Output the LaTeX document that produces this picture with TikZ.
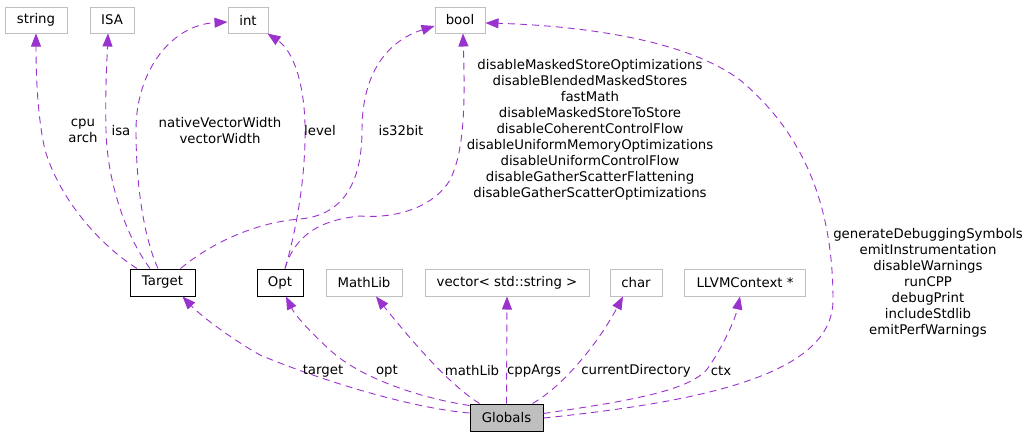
\documentclass[tikz,border=0pt]{standalone}
\usepackage{fontspec}
\setmainfont{DejaVu Sans}
\usepackage{tikz}
\usetikzlibrary{arrows.meta}

\definecolor{edgecol}{HTML}{9A32CD}
\definecolor{extgray}{HTML}{BFBFBF}

\begin{document}
\begin{tikzpicture}[
  x=1pt, y=-1pt,
  >={Triangle[length=13pt,width=10pt]},
  box/.style={draw, line width=1pt, minimum height=26pt, inner sep=0pt, font=\fontsize{13.3}{16}\selectfont},
  ext/.style={box, draw=extgray},
  cls/.style={box, draw=black, minimum height=27pt},
  lbl/.style={align=center, inner sep=0pt, font=\fontsize{13.3}{16}\selectfont},
  dep/.style={->, edgecol, line width=0.9pt, dash pattern=on 7pt off 5pt},
]
\useasboundingbox (0,0) rectangle (1032,437);

% Member types
\node[ext, minimum width=62pt] (string) at (36,20) {string};
\node[ext, minimum width=44pt] (isa)    at (112,20) {ISA};
\node[ext, minimum width=40pt] (int)    at (248,20) {int};
\node[ext, minimum width=50pt] (bool)   at (460,20) {bool};

\node[cls, minimum width=65pt]  (target)  at (162.5,282.5) {Target};
\node[cls, minimum width=46pt]  (opt)     at (280,282.5) {Opt};
\node[ext, minimum width=76pt, minimum height=27pt]  (mathlib) at (364,282.5) {MathLib};
\node[ext, minimum width=164pt, minimum height=27pt] (vecstr)  at (507,282.5) {vector< std::string >};
\node[ext, minimum width=52pt, minimum height=27pt]  (chr)     at (636,282.5) {char};
\node[ext, minimum width=121pt, minimum height=27pt] (llvmctx) at (745,282.5) {LLVMContext *};

\node[cls, fill=extgray, minimum width=73pt] (globals) at (506.5,417.5) {Globals};

% Target and Opt members
\draw[dep] ([xshift=-25.5]target.north) .. controls (100,245) and (60,200) .. (45,150)
  .. controls (37,115) and (36,70) .. (string.south);
\draw[dep] ([xshift=-12.5]target.north) .. controls (125,235) and (107,180) .. (106,130)
  .. controls (105,90) and (107,60) .. ([xshift=-4]isa.south);
\draw[dep] ([xshift=-4.5]target.north) .. controls (145,240) and (136,190) .. (136,130)
  .. controls (136,70) and (172,25) .. ([yshift=-2]int.west);
\draw[dep] ([xshift=5]opt.north) .. controls (298,225) and (306,170) .. (305,125)
  .. controls (304,80) and (292,50) .. ([xshift=-1]int.south east);
\draw[dep] ([xshift=18]target.north) .. controls (215,240) and (260,222) .. (300,219)
  .. controls (345,215) and (362,180) .. (362,130)
  .. controls (362,70) and (390,40) .. ([yshift=-6]bool.west);
\draw[dep] ([xshift=5]opt.north) .. controls (295,235) and (320,220) .. (360,216)
  .. controls (400,219) and (435,205) .. (450,180)
  .. controls (465,150) and (465,100) .. ([xshift=3]bool.south);

\node[lbl] (lcpu)   at (83,131)  {cpu\\arch};
\node[lbl] (lisa)   at (121,131) {isa};
\node[lbl] (lwidth) at (220,131) {nativeVectorWidth\\vectorWidth};
\node[lbl] (llevel) at (320,131) {level};
\node[lbl] (l32bit) at (401,131) {is32bit};
\node[lbl] (lflags) at (590,130) {disableMaskedStoreOptimizations\\disableBlendedMaskedStores\\fastMath\\disableMaskedStoreToStore\\disableCoherentControlFlow\\disableUniformMemoryOptimizations\\disableUniformControlFlow\\disableGatherScatterFlattening\\disableGatherScatterOptimizations};

% Globals members
\draw[dep] ([yshift=4.5]globals.west) .. controls (410,408) and (320,380) .. (260,355)
  .. controls (230,338) and (200,315) .. ([xshift=20]target.south);
\draw[dep] ([yshift=12]globals.west) .. controls (420,398) and (360,378) .. (330,350)
  .. controls (310,332) and (295,315) .. ([xshift=6]opt.south);
\draw[dep] ([xshift=-27]globals.north) .. controls (450,385) and (415,345) .. ([xshift=12]mathlib.south);
\draw[dep] (globals.north) -- (vecstr.south);
\draw[dep] ([xshift=26]globals.north) .. controls (565,385) and (600,340) .. ([xshift=-13]chr.south);
\draw[dep] ([yshift=4]globals.east) .. controls (620,402) and (690,392) .. (708,368)
  .. controls (722,348) and (735,320) .. ([xshift=-5]llvmctx.south);
\draw[dep] ([yshift=-0.5]globals.east) .. controls (720,400) and (833,370) .. (833,300)
  .. controls (833,200) and (800,130) .. (740,80)
  .. controls (680,35) and (560,25) .. ([yshift=-3]bool.east);

\node[lbl] (ltarget) at (323,371) {target};
\node[lbl] (lopt)    at (387,371) {opt};
\node[lbl] (lmath)   at (472,371) {mathLib};
\node[lbl] (lcpp)    at (534,371) {cppArgs};
\node[lbl] (lcur)    at (636,371) {currentDirectory};
\node[lbl] (lctx)    at (721,371) {ctx};
\node[lbl] (lgen)    at (928,283) {generateDebuggingSymbols\\emitInstrumentation\\disableWarnings\\runCPP\\debugPrint\\includeStdlib\\emitPerfWarnings};

\end{tikzpicture}
\end{document}
